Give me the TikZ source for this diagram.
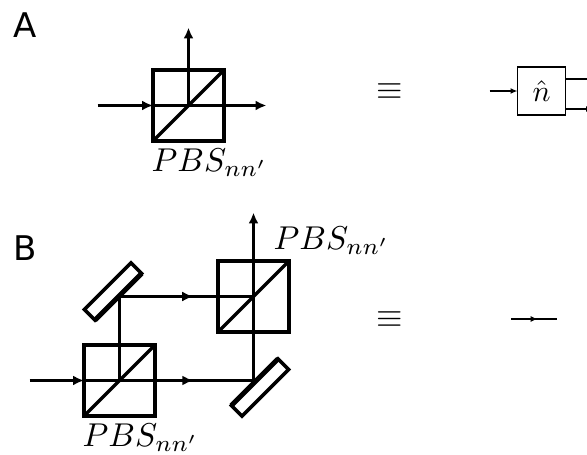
\documentclass[tikz,border=0pt]{standalone}
\usepackage{amsmath,amssymb}
\usepackage{fontspec}
\usepackage{tikz}
\usetikzlibrary{arrows.meta,positioning,decorations.markings}
\newfontfamily\panelfont{DejaVu Sans}

\begin{document}
\begin{tikzpicture}[x=1pt, y=1pt, node distance=73pt, auto,
    % Styles for the optical parts
    bigtip/.tip={Latex[length=11pt, width=10pt]},
    smalltip/.tip={Latex[length=7pt, width=6pt]},
    cube/.style={rectangle, draw, line width=3.5pt, minimum size=71pt, inner sep=0pt, outer sep=0pt},
    mirror/.style={rectangle, draw, line width=3.5pt, minimum width=66pt, minimum height=15pt, inner sep=0pt, outer sep=0pt, rotate=45},
    block/.style={rectangle, draw, line width=1.3pt, minimum size=48pt, inner sep=0pt, outer sep=0pt},
    panel/.style={inner sep=0pt, font=\panelfont\fontsize{34}{40}\selectfont},
    pbs/.style={inner sep=0pt, scale=3.3},
    same/.style={inner sep=0pt, scale=3.4},
    beam/.style={draw, line width=3.2pt},
    line/.style={draw, -bigtip, line width=3.2pt},
    wire/.style={draw, -smalltip, line width=1.8pt},
    midline/.style={draw, line width=3.2pt, decoration={markings, mark=at position #1 with {\arrow{bigtip}}}, postaction={decorate}},
    midwire/.style={draw, line width=1.5pt, decoration={markings, mark=at position #1 with {\arrow{smalltip}}}, postaction={decorate}}]

    \clip (0,0) rectangle (587,455);
    \useasboundingbox (0,0) rectangle (587,455);

    % Panel A
    \node [panel, anchor=center] (labelA) at (25,430) {A};

    % Node: cube of panel A
    \node [cube] (cubeA) at (188.5,349.5) {};
    \node [pbs, below right=7pt and -2pt of cubeA.south west] (pbsA) {$PBS_{nn'}$};
    \coordinate [left of=cubeA, node distance=91pt] (inA);
    \coordinate [right of=cubeA, node distance=78pt] (outA);
    \coordinate [above of=cubeA, node distance=78pt] (upA);

    % Edges of panel A
    \draw [beam] (cubeA.south west) -- (cubeA.north east);
    \path [line] (inA) -- (cubeA.west);
    \path [line] (cubeA.west) -- (outA);
    \path [line] (cubeA.center) -- (upA);

    % Equivalent box of panel A
    \node [same] (eqA) at (389.5,363) {$\equiv$};
    \node [block] (boxA) at (541.5,364) {};
    \node [scale=3, inner sep=0pt] (hatA) at (boxA.center) {$\hat{n}$};
    \coordinate [left of=boxA, node distance=52pt] (inboxA);
    \coordinate (upboxA) at ([yshift=12pt]boxA.east);
    \coordinate (dnboxA) at ([yshift=-18pt]boxA.east);
    \coordinate (upendA) at (593,376);
    \coordinate (dnendA) at (593,346);
    \path [wire] (inboxA) -- (boxA.west);
    \draw [line width=1.8pt] (upboxA) -- (upendA);
    \path [wire] (dnboxA) -- (dnendA);

    % Panel B
    \node [panel] (labelB) at (25,207) {B};

    % Node: cubes and mirrors of panel B
    \node [cube] (cubeB) at (119.5,74.5) {};
    \node [cube] (cubeC) at (253.5,158.5) {};
    \node [mirror] (mirrorB) at (113,163.5) {};
    \node [mirror] (mirrorC) at (260,67.5) {};
    \node [pbs, below right=7pt and -2pt of cubeB.south west] (pbsB) {$PBS_{nn'}$};
    \node [pbs, anchor=south west] (pbsC) at (273,200) {$PBS_{nn'}$};
    \coordinate [left of=cubeB, node distance=90pt] (inB);
    \coordinate (hitB) at (cubeB.center -| cubeC.center);
    \coordinate (hitC) at (cubeC.center -| cubeB.center);
    \coordinate [above of=cubeC, node distance=84pt] (upC);

    % Edges of panel B
    \draw [beam] (cubeB.south west) -- (cubeB.north east);
    \draw [beam] (cubeC.south west) -- (cubeC.north east);
    \draw [line width=5pt] (mirrorB.south west) -- (mirrorB.south east);
    \draw [line width=5pt] (mirrorC.north west) -- (mirrorC.north east);
    \path [line] (inB) -- (cubeB.west);
    \path [midline=0.645] (cubeB.west) -- (hitB);
    \path [beam] (cubeB.center) -- (hitC);
    \path [midline=0.55] (hitC) -- (cubeC.center);
    \path [line] (hitB) -- (upC);

    % Equivalent wire of panel B
    \node [same] (eqB) at (389.5,135) {$\equiv$};
    \coordinate (inwireB) at (511,136);
    \coordinate (outwireB) at (557,136);
    \path [midwire=0.58] (inwireB) -- (outwireB);
\end{tikzpicture}
\end{document}
